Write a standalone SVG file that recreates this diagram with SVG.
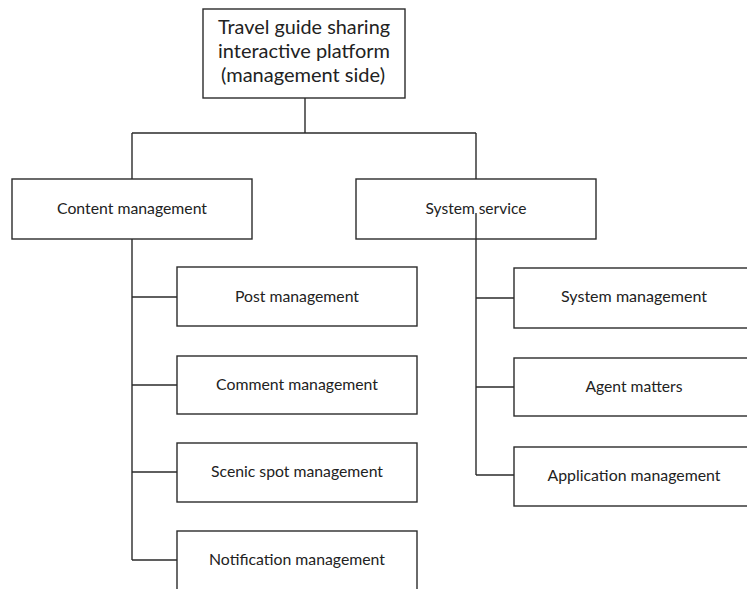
<svg xmlns="http://www.w3.org/2000/svg" width="747" height="589" viewBox="0 0 747 589">
<style>
.box{fill:#ffffff;stroke:#2b2b2b;stroke-width:1.4}
.ln{fill:none;stroke:#2b2b2b;stroke-width:1.4}
.t{font-family:Lato,"Open Sans","Liberation Sans",sans-serif;font-size:15px;fill:#222;text-anchor:middle}
.tt{font-family:Lato,"Open Sans","Liberation Sans",sans-serif;font-size:20px;fill:#222;text-anchor:middle}
</style>
<rect width="747" height="589" fill="#ffffff"/>
<g id="connectors">
<path class="ln" d="M305 98V133M132 133H476M132 133V179M476 133V179"/>
<path class="ln" d="M132 239V560M132 297H177M132 385H177M132 472H177M132 560H177"/>
<path class="ln" d="M476 213V475M476 298H514M476 387H514M476 475H514"/>
</g>
<g id="root">
<rect class="box" x="203" y="9" width="202" height="89"/>
<text class="tt" x="304" y="34" textLength="172" lengthAdjust="spacingAndGlyphs">Travel guide sharing</text>
<text class="tt" x="304" y="58" textLength="172" lengthAdjust="spacingAndGlyphs">interactive platform</text>
<text class="tt" x="303" y="82" textLength="164" lengthAdjust="spacingAndGlyphs">(management side)</text>
</g>
<g id="content">
<rect class="box" x="12" y="179" width="240" height="60"/>
<text class="t" x="132" y="214" textLength="150" lengthAdjust="spacingAndGlyphs">Content management</text>
</g>
<g id="system">
<rect class="box" x="356" y="179" width="240" height="60" style="fill:none"/>
<text class="t" x="476" y="214" textLength="101" lengthAdjust="spacingAndGlyphs">System service</text>
</g>
<g id="post">
<rect class="box" x="177" y="267" width="240" height="59"/>
<text class="t" x="297" y="302" textLength="124" lengthAdjust="spacingAndGlyphs">Post management</text>
</g>
<g id="comment">
<rect class="box" x="177" y="356" width="240" height="58"/>
<text class="t" x="297" y="390" textLength="162" lengthAdjust="spacingAndGlyphs">Comment management</text>
</g>
<g id="scenic">
<rect class="box" x="177" y="443" width="240" height="59"/>
<text class="t" x="297" y="477" textLength="172" lengthAdjust="spacingAndGlyphs">Scenic spot management</text>
</g>
<g id="notification">
<rect class="box" x="177" y="531" width="240" height="70"/>
<text class="t" x="297" y="565" textLength="176" lengthAdjust="spacingAndGlyphs">Notification management</text>
</g>
<g id="sysmgmt">
<rect class="box" x="514" y="268" width="240" height="60"/>
<text class="t" x="634" y="302" textLength="146" lengthAdjust="spacingAndGlyphs">System management</text>
</g>
<g id="agent">
<rect class="box" x="514" y="358" width="240" height="58"/>
<text class="t" x="634" y="392" textLength="97" lengthAdjust="spacingAndGlyphs">Agent matters</text>
</g>
<g id="application">
<rect class="box" x="514" y="447" width="240" height="59"/>
<text class="t" x="634" y="481" textLength="173" lengthAdjust="spacingAndGlyphs">Application management</text>
</g>
</svg>
